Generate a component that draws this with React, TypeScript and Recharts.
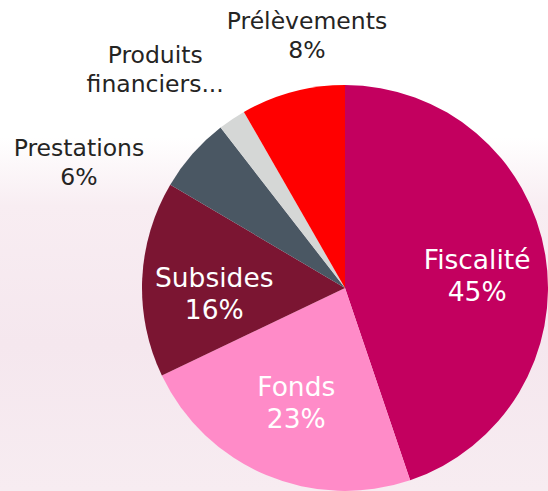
import { Cell, Pie, PieChart } from "recharts";

// Revenue sources (share of total, %)
const names = ["Fiscalité", "Fonds", "Subsides", "Prestations", "Produits financiers", "Prélèvements"];
const values = [44.8, 23.1, 15.6, 6.0, 2.2, 8.3];
const truncated = ["Produits financiers"];

const COLORS = ["#C3005F", "#FF8BC8", "#7B1532", "#4A5763", "#D5D7D6", "#FF0000"];

// label layout tweaks (dx, dy) per slice
const NUDGE: [number, number][] = [
  [6, 18],
  [1, 6],
  [-3, 21],
  [-71, 54],
  [-45, 5.5],
  [29, 6.5],
];

const data = names.map((name, i) => ({ name, value: values[i] }));

const RAD = Math.PI / 180;

function renderLabel(props: any) {
  const { cx, cy, midAngle, outerRadius, percent, index, name } = props;
  const inside = percent >= 0.1;
  const r = inside ? outerRadius * 0.63 : outerRadius + 57;
  const [dx, dy] = NUDGE[index];
  const x = cx + r * Math.cos(-midAngle * RAD) + dx;
  const y = cy + r * Math.sin(-midAngle * RAD) + dy;
  const pct = `${Math.round(percent * 100)}%`;
  let lines = [name, pct];
  if (truncated.includes(name)) {
    const words = name.split(" ");
    lines = [words[0], words.slice(1).join(" ") + "..."];
  }
  const gap = inside ? 32 : 29;
  return (
    <text
      x={x}
      y={y}
      textAnchor="middle"
      fill={inside ? "#ffffff" : "#252423"}
      fontSize={inside ? 26.5 : 23.5}
      fontFamily="DejaVu Sans"
    >
      <tspan x={x} y={y - gap / 2}>{lines[0]}</tspan>
      <tspan x={x} y={y + gap / 2}>{lines[1]}</tspan>
    </text>
  );
}

export default function App() {
  return (
    <div
      style={{
        position: "fixed",
        top: 0,
        left: 0,
        width: 548,
        height: 491,
        background:
          "linear-gradient(to bottom, #ffffff 0%, #ffffff 28%, #f8edf2 42%, #f5e7ee 70%, #f7ecf1 100%)",
      }}
    >
      <PieChart width={548} height={491} margin={{ top: 0, right: 0, bottom: 0, left: 0 }}>
        <Pie
          data={data}
          dataKey="value"
          nameKey="name"
          cx={345}
          cy={288}
          outerRadius={203}
          startAngle={90}
          endAngle={-270}
          stroke="none"
          label={renderLabel}
          labelLine={false}
          isAnimationActive={false}
        >
          {data.map((_, i) => (
            <Cell key={i} fill={COLORS[i]} />
          ))}
        </Pie>
      </PieChart>
    </div>
  );
}
